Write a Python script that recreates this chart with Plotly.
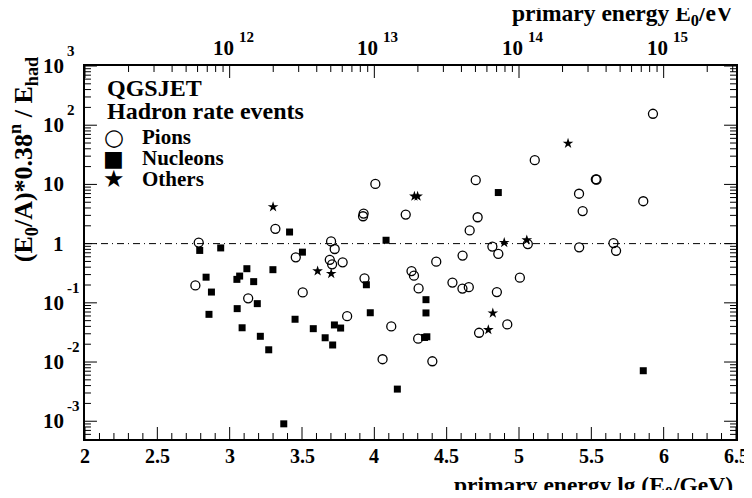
"""
Hadron rate events (QGSJET): energy ratio vs primary energy.
ROOT-style frame: ticks are drawn as a line trace, labels as annotations.
"""

import numpy as np
import plotly.graph_objects as go

# lg(E0/GeV) and (E0/A)*0.38^n / E_had
pion_x = [2.763, 2.786, 3.316, 3.128, 3.457, 3.505, 3.701, 3.726, 3.692, 3.708,
          3.781, 3.812, 3.926, 3.922, 4.007, 3.932, 4.117, 4.057, 4.217, 4.257,
          4.274, 4.306, 4.303, 4.401, 4.428, 4.540, 4.610, 4.609, 4.653, 4.659,
          4.714, 4.701, 4.724, 4.816, 4.857, 4.847, 4.919, 5.006, 5.061, 5.109,
          5.416, 5.415, 5.440, 5.531, 5.536, 5.653, 5.671, 5.859, 5.926]
pion_y = [0.197, 1.04, 1.78, 0.119, 0.586, 0.150, 1.09, 0.811, 0.532, 0.447,
          0.483, 0.0596, 3.22, 2.90, 10.2, 0.259, 0.0399, 0.01115, 3.10, 0.344,
          0.288, 0.175, 0.0248, 0.0103, 0.496, 0.220, 0.627, 0.174, 0.184, 1.67,
          2.79, 11.8, 0.0312, 0.893, 0.672, 0.152, 0.0431, 0.266, 0.981, 25.7,
          0.865, 6.96, 3.55, 12.2, 12.1, 1.02, 0.756, 5.20, 156.0]

nucl_x = [2.793, 2.938, 2.837, 2.874, 2.857, 3.050, 3.069, 3.119, 3.166, 3.052,
          3.191, 3.086, 3.212, 3.270, 3.299, 3.414, 3.503, 3.452, 3.578, 3.660,
          3.712, 3.724, 3.767, 3.374, 3.945, 3.972, 4.081, 4.159, 4.357, 4.357,
          4.347, 4.363, 4.857, 5.859]
nucl_y = [0.767, 0.846, 0.271, 0.152, 0.0639, 0.249, 0.283, 0.377, 0.228, 0.0798,
          0.0969, 0.0379, 0.0272, 0.0161, 0.363, 1.57, 0.718, 0.0528, 0.0366, 0.0257,
          0.0194, 0.0423, 0.0375, 0.000904, 0.202, 0.0680, 1.14, 0.00349, 0.113, 0.0675,
          0.0260, 0.0267, 7.29, 0.00713]

other_x = [3.300, 3.608, 3.702, 4.277, 4.299, 4.898, 5.054, 5.339, 4.819, 4.788]
other_y = [4.16, 0.344, 0.311, 6.31, 6.31, 1.04, 1.15, 49.2, 0.0670, 0.0351]

# axes
x_ticks = [2, 2.5, 3, 3.5, 4, 4.5, 5, 5.5, 6, 6.5]
x_ticklabels = ["2", "2.5", "3", "3.5", "4", "4.5", "5", "5.5", "6", "6.5"]
y_decades = [-3, -2, -1, 0, 1, 2, 3]
y_tick_base = ["10", "10", "10", "1", "10", "10", "10"]
y_tick_exp = ["-3", "-2", "-1", "", "", "2", "3"]
ev_decades = [12, 13, 14, 15]   # top axis, E0 in eV

legend_title = ["QGSJET", "Hadron rate events"]
legend_names = ["Pions", "Nucleons", "Others"]
legend_glyphs = ["○", "■", "★"]

X_RANGE = [2, 6.5]
Y_RANGE = [-3.3, 3]   # log10

FONT = "Liberation Serif, Times New Roman, serif"
BLACK = "black"

# figure is placed 8px into the page (body margin), so it is 16px smaller than the window
W, H = 736, 482
M = dict(l=77, r=6, t=58, b=51)
PLOT_W = W - M["l"] - M["r"]
PLOT_H = H - M["t"] - M["b"]
PX_PER_X = PLOT_W / (X_RANGE[1] - X_RANGE[0])
PX_PER_DEC = PLOT_H / (Y_RANGE[1] - Y_RANGE[0])
LEFT, TOP = 85, 66          # plot area corner in window pixels


def px_x(p):
    return (p - LEFT) / PLOT_W


def px_y(p):
    return (TOP + PLOT_H - p) / PLOT_H


def yfrac(logv):
    return (logv - Y_RANGE[0]) / (Y_RANGE[1] - Y_RANGE[0])


fig = go.Figure()

fig.add_trace(go.Scatter(
    x=pion_x, y=pion_y, mode="markers", name="Pions",
    marker=dict(symbol="circle-open", size=9, color=BLACK, line=dict(width=1.3, color=BLACK)),
))
fig.add_trace(go.Scatter(
    x=nucl_x, y=nucl_y, mode="markers", name="Nucleons",
    marker=dict(symbol="square", size=7, color=BLACK),
))
fig.add_trace(go.Scatter(
    x=other_x, y=other_y, mode="markers", name="Others",
    marker=dict(symbol="star", size=8, color=BLACK),
))

# ---- tick marks (inside), one line trace with gaps
tx, ty = [], []


def seg(x0, y0, x1, y1):
    tx.extend([x0, x1, None])
    ty.extend([y0, y1, None])


ylo, yhi = 10 ** Y_RANGE[0], 10 ** Y_RANGE[1]
for v in np.arange(X_RANGE[0], X_RANGE[1] + 1e-9, 0.1):
    v = float(round(v, 4))
    L = 12 if min(abs(v - t) for t in x_ticks) < 1e-6 else 6
    seg(v, ylo, v, 10 ** (Y_RANGE[0] + L / PX_PER_DEC))
for n in range(2, 7):
    for k in range(1, 10):
        v = float(n + np.log10(k))
        if X_RANGE[0] <= v <= X_RANGE[1]:
            L = 12 if k == 1 else 6
            seg(v, yhi, v, 10 ** (Y_RANGE[1] - L / PX_PER_DEC))
for n in range(-4, 4):
    for k in range(1, 10):
        lv = float(n + np.log10(k))
        if Y_RANGE[0] <= lv <= Y_RANGE[1]:
            L = 12 if k == 1 else 6
            seg(X_RANGE[0], 10 ** lv, X_RANGE[0] + L / PX_PER_X, 10 ** lv)
            seg(X_RANGE[1], 10 ** lv, X_RANGE[1] - L / PX_PER_X, 10 ** lv)

fig.add_trace(go.Scatter(x=tx, y=ty, mode="lines", line=dict(color=BLACK, width=1),
                         showlegend=False, hoverinfo="skip", connectgaps=False))

fig.update_layout(
    width=W, height=H, margin=M,
    plot_bgcolor="white", paper_bgcolor="white",
    font=dict(family=FONT, color=BLACK, size=18),
    showlegend=False,
    xaxis=dict(range=X_RANGE, showticklabels=False, ticks="",
               showline=True, linewidth=2, linecolor=BLACK, mirror=True,
               showgrid=False, zeroline=False),
    yaxis=dict(type="log", range=Y_RANGE, showticklabels=False, ticks="",
               showline=True, linewidth=2, linecolor=BLACK, mirror=True,
               showgrid=False, zeroline=False),
)

# dash-dotted reference line at ratio 1
fig.add_shape(type="line", xref="paper", yref="y", x0=0, x1=1, y0=1, y1=1,
              line=dict(color=BLACK, width=1, dash="7px,4px,1px,4px"))

# ---- tick labels
for v, lab in zip(x_ticks, x_ticklabels):
    fig.add_annotation(text=lab, xref="x", x=v, yref="paper", y=px_y(456),
                       xanchor="center", yanchor="middle", showarrow=False,
                       font=dict(family=FONT, size=20, weight="bold"))

for d, base, ex in zip(y_decades, y_tick_base, y_tick_exp):
    fig.add_annotation(text=base, xref="paper", x=px_x(66), yref="paper", y=yfrac(d),
                       xanchor="right", yanchor="middle", showarrow=False,
                       font=dict(family=FONT, size=21, weight="bold"))
    if ex:
        fig.add_annotation(text=ex, xref="paper", x=px_x(65), yref="paper", y=yfrac(d), yshift=15,
                           xanchor="left", yanchor="middle", showarrow=False,
                           font=dict(family=FONT, size=15, weight="bold"))

for d in ev_decades:
    fig.add_annotation(text="10", xref="x", x=d - 9, xshift=6, yref="paper", y=px_y(48),
                       xanchor="right", yanchor="middle", showarrow=False,
                       font=dict(family=FONT, size=21, weight="bold"))
    fig.add_annotation(text=str(d), xref="x", x=d - 9, xshift=7, yref="paper", y=px_y(37),
                       xanchor="left", yanchor="middle", showarrow=False,
                       font=dict(family=FONT, size=15, weight="bold"))

# ---- legend block, ROOT style
for i, txt in enumerate(legend_title):
    fig.add_annotation(
        text=txt, xref="paper", yref="paper", x=px_x(105), y=px_y(88 + 23 * i),
        xanchor="left", yanchor="middle", showarrow=False,
        font=dict(family=FONT, size=24, weight="bold"),
    )
for i, (glyph, name) in enumerate(zip(legend_glyphs, legend_names)):
    yy = px_y(137 + 21 * i)
    fig.add_annotation(
        text=glyph, xref="paper", yref="paper", x=px_x(114), y=yy,
        xanchor="center", yanchor="middle", showarrow=False,
        font=dict(family="DejaVu Sans", size=[23, 22, 24][i]),
    )
    fig.add_annotation(
        text=name, xref="paper", yref="paper", x=px_x(140), y=yy,
        xanchor="left", yanchor="middle", showarrow=False,
        font=dict(family=FONT, size=21, weight="bold"),
    )

# ---- axis titles
fig.add_annotation(
    text="primary energy lg (E<sub>0</sub>/GeV)", xref="paper", yref="paper",
    x=px_x(737), y=px_y(487), xanchor="right", yanchor="middle", showarrow=False,
    font=dict(family=FONT, size=23.5, weight="bold"),
)
fig.add_annotation(
    text="primary energy E<sub>0</sub>/eV", xref="paper", yref="paper",
    x=px_x(737), y=px_y(15), xanchor="right", yanchor="middle", showarrow=False,
    font=dict(family=FONT, size=23.5, weight="bold"),
)
fig.add_annotation(
    text="(E<sub>0</sub>/A)*0.38<sup>n</sup> / E<sub>had</sub>", xref="paper", yref="paper",
    x=px_x(23), y=px_y(160), xanchor="center", yanchor="middle", showarrow=False, textangle=-90,
    font=dict(family=FONT, size=26, weight="bold"),
)

fig.write_html("out.html")
